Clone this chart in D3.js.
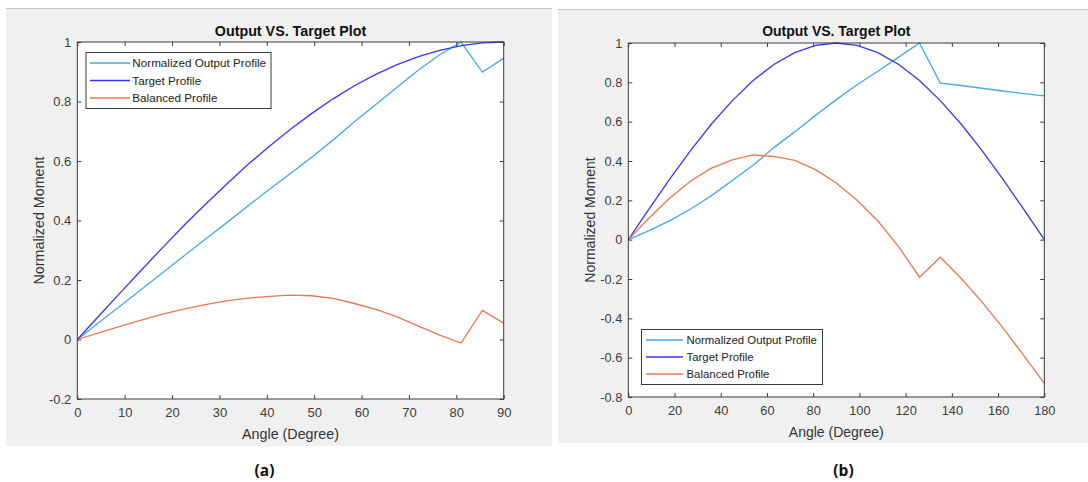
<!DOCTYPE html>
<html>
<head>
<meta charset="utf-8">
<script src="https://cdn.jsdelivr.net/npm/d3@7"></script>
<style>
  html, body { margin: 0; padding: 0; background: #fff; }
  svg { display: block; }
  text { font-family: "Liberation Sans", Arial, sans-serif; }
</style>
</head>
<body>
<div id="chart"></div>
<script>
// panel (a): angle 0..90
const anglesA = [0, 4.5, 9, 13.5, 18, 22.5, 27, 31.5, 36, 40.5, 45, 49.5, 54, 58.5, 63, 67.5, 72, 76.5, 81, 85.5, 90];
const outputA = [0, 0.056, 0.112, 0.168, 0.224, 0.281, 0.337, 0.392, 0.449, 0.504, 0.558, 0.613, 0.671, 0.732, 0.790, 0.848, 0.906, 0.957, 1.0, 0.899, 0.945];
const targetA = [0, 0.078, 0.156, 0.233, 0.309, 0.383, 0.454, 0.522, 0.588, 0.649, 0.707, 0.760, 0.809, 0.853, 0.891, 0.924, 0.951, 0.972, 0.988, 0.997, 1.0];
const balancedA = [0, 0.022, 0.044, 0.065, 0.085, 0.102, 0.117, 0.130, 0.139, 0.145, 0.149, 0.147, 0.138, 0.121, 0.101, 0.076, 0.045, 0.015, -0.012, 0.098, 0.055];

// panel (b): angle 0..180
const anglesB = [0, 9, 18, 27, 36, 45, 54, 63, 72, 81, 90, 99, 108, 117, 126, 135, 144, 153, 162, 171, 180];
const outputB = [0, 0.046, 0.097, 0.156, 0.224, 0.301, 0.378, 0.468, 0.548, 0.632, 0.712, 0.788, 0.856, 0.928, 1.0, 0.796, 0.784, 0.770, 0.756, 0.743, 0.731];
const targetB = [0, 0.156, 0.309, 0.454, 0.588, 0.707, 0.809, 0.891, 0.951, 0.988, 1.0, 0.988, 0.951, 0.891, 0.809, 0.707, 0.588, 0.454, 0.309, 0.156, 0];
const balancedB = [0, 0.110, 0.212, 0.298, 0.364, 0.406, 0.431, 0.423, 0.403, 0.356, 0.288, 0.200, 0.095, -0.037, -0.191, -0.089, -0.196, -0.316, -0.447, -0.587, -0.731];

const xTicksA = [0, 10, 20, 30, 40, 50, 60, 70, 80, 90];
const yTicksA = [-0.2, 0, 0.2, 0.4, 0.6, 0.8, 1];
const xTicksB = [0, 20, 40, 60, 80, 100, 120, 140, 160, 180];
const yTicksB = [-0.8, -0.6, -0.4, -0.2, 0, 0.2, 0.4, 0.6, 0.8, 1];

const seriesNames = ['Normalized Output Profile', 'Target Profile', 'Balanced Profile'];
const seriesColors = ['#45a9e4', '#3535ff', '#ec7652'];

const chartTitle = 'Output VS. Target Plot';
const xTitle = 'Angle (Degree)';
const yTitle = 'Normalized Moment';

const W = 1088, H = 482;
const svg = d3.select('#chart').append('svg')
    .attr('width', W)
    .attr('height', H);

const fmt = d => String(+d.toFixed(1));

function drawPanel(p) {
    const g = svg.append('g');

    // grey figure background
    g.append('rect')
        .attr('x', p.bg[0]).attr('y', p.bg[1])
        .attr('width', p.bg[2]).attr('height', p.bg[3])
        .attr('fill', '#f0f0f0');
    g.append('line')
        .attr('x1', p.bg[0]).attr('x2', p.bg[0] + p.bg[2])
        .attr('y1', p.bg[1] + 0.5).attr('y2', p.bg[1] + 0.5)
        .attr('stroke', '#c4c4c4');

    const x = d3.scaleLinear().domain(p.xDomain).range([p.left, p.right]);
    const y = d3.scaleLinear().domain(p.yDomain).range([p.bottom, p.top]);

    // white plot area
    g.append('rect')
        .attr('x', p.left).attr('y', p.top)
        .attr('width', p.right - p.left).attr('height', p.bottom - p.top)
        .attr('fill', '#fff');

    // series lines
    const line = d3.line()
        .x((d, i) => x(p.angles[i]))
        .y(d => y(d));
    p.series.forEach((vals, i) => {
        g.append('path')
            .datum(vals)
            .attr('d', line)
            .attr('fill', 'none')
            .attr('stroke', seriesColors[i])
            .attr('stroke-width', 1.3);
    });

    // axes, ticks pointing inward
    const axisColor = '#3a3a3a';
    const styleAxis = sel => {
        sel.select('.domain').remove();
        sel.selectAll('.tick line').attr('stroke', axisColor);
        sel.selectAll('.tick text')
            .attr('fill', '#3c3c3c')
            .style('font-family', '"Liberation Sans", Arial, sans-serif')
            .style('font-size', p.tickFont + 'px');
    };
    g.append('g')
        .attr('transform', `translate(0,${p.bottom})`)
        .call(d3.axisBottom(x).tickValues(p.xTicks).tickFormat(fmt).tickSize(-4).tickPadding(p.xPad))
        .call(styleAxis);
    g.append('g')
        .attr('transform', `translate(${p.left},0)`)
        .call(d3.axisLeft(y).tickValues(p.yTicks).tickFormat(fmt).tickSize(-4).tickPadding(6))
        .call(styleAxis);
    g.append('g')
        .attr('transform', `translate(0,${p.top})`)
        .call(d3.axisTop(x).tickValues(p.xTicks).tickFormat('').tickSize(-4))
        .call(styleAxis);
    g.append('g')
        .attr('transform', `translate(${p.right},0)`)
        .call(d3.axisRight(y).tickValues(p.yTicks).tickFormat('').tickSize(-4))
        .call(styleAxis);

    g.append('rect')
        .attr('x', p.left).attr('y', p.top)
        .attr('width', p.right - p.left).attr('height', p.bottom - p.top)
        .attr('fill', 'none')
        .attr('stroke', axisColor)
        .attr('stroke-width', 1);

    // title and axis labels
    g.append('text')
        .attr('x', (p.left + p.right) / 2).attr('y', p.titleY)
        .attr('text-anchor', 'middle')
        .attr('font-weight', 'bold')
        .attr('font-size', p.titleFont)
        .attr('fill', '#111')
        .text(chartTitle);
    g.append('text')
        .attr('x', (p.left + p.right) / 2).attr('y', p.xLabelY)
        .attr('text-anchor', 'middle')
        .attr('font-size', p.labelFont)
        .attr('fill', '#333')
        .text(xTitle);
    g.append('text')
        .attr('transform', `translate(${p.yLabelX},${(p.top + p.bottom) / 2}) rotate(-90)`)
        .attr('text-anchor', 'middle')
        .attr('font-size', p.labelFont)
        .attr('fill', '#333')
        .text(yTitle);

    // legend
    const lg = p.legend;
    g.append('rect')
        .attr('x', lg.x + 0.5).attr('y', lg.y + 0.5)
        .attr('width', lg.w).attr('height', lg.h)
        .attr('fill', '#fff')
        .attr('stroke', '#3a3a3a');
    seriesNames.forEach((name, i) => {
        const ry = lg.rows[i];
        g.append('line')
            .attr('x1', lg.lineX1).attr('x2', lg.lineX2)
            .attr('y1', ry).attr('y2', ry)
            .attr('stroke', seriesColors[i])
            .attr('stroke-width', 1.3);
        g.append('text')
            .attr('x', lg.textX).attr('y', ry + 4.2)
            .attr('font-size', lg.font)
            .attr('fill', '#222')
            .text(name);
    });

    // caption under the panel
    g.append('text')
        .attr('x', p.caption[0]).attr('y', p.caption[1])
        .attr('text-anchor', 'middle')
        .attr('font-weight', 'bold')
        .attr('font-size', 15.5)
        .style('font-family', '"Open Sans", "Noto Sans", sans-serif')
        .attr('fill', '#111')
        .text(p.caption[2]);
}

drawPanel({
    bg: [6, 8, 546, 438],
    left: 77.3, right: 503.7, top: 42, bottom: 399,
    xDomain: [0, 90], yDomain: [-0.2, 1],
    xTicks: xTicksA, yTicks: yTicksA,
    angles: anglesA, series: [outputA, targetA, balancedA],
    tickFont: 13, labelFont: 14.3, titleFont: 14.3,
    xPad: 9, titleY: 36, xLabelY: 439, yLabelX: 43.5,
    legend: { x: 85.5, y: 52, w: 185, h: 56, rows: [63, 80.5, 98], lineX1: 90, lineX2: 130, textX: 132.3, font: 11.7 },
    caption: [264.5, 476, '(a)']
});

drawPanel({
    bg: [558, 9, 530, 434],
    left: 628.3, right: 1044.3, top: 43, bottom: 397,
    xDomain: [0, 180], yDomain: [-0.8, 1],
    xTicks: xTicksB, yTicks: yTicksB,
    angles: anglesB, series: [outputB, targetB, balancedB],
    tickFont: 12.8, labelFont: 14, titleFont: 14,
    xPad: 8.5, titleY: 36, xLabelY: 437, yLabelX: 595,
    legend: { x: 641, y: 329, w: 181, h: 55, rows: [340, 357, 374], lineX1: 646, lineX2: 683, textX: 686.5, font: 11.4 },
    caption: [843.5, 476, '(b)']
});
</script>
</body>
</html>
